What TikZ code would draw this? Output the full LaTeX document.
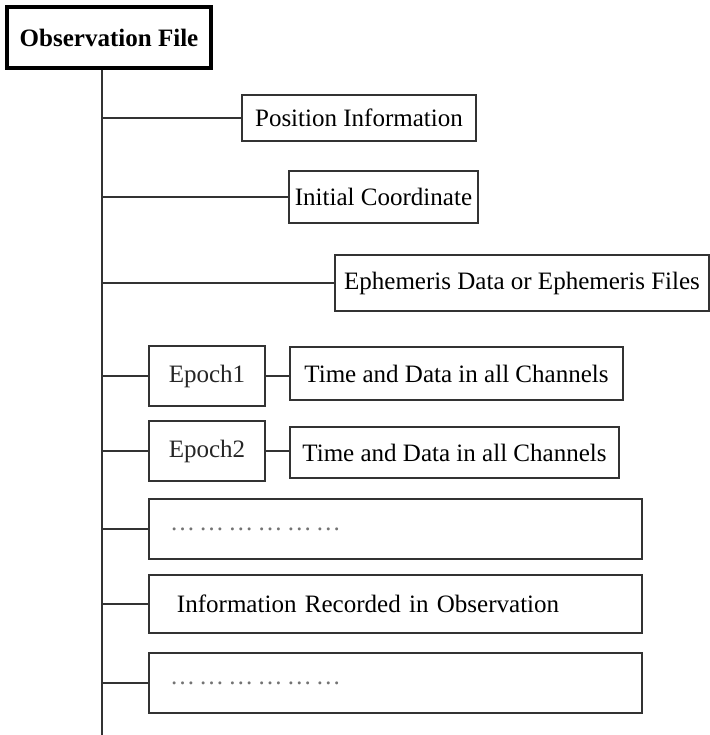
\documentclass[tikz,border=0pt]{standalone}
\usepackage{fontspec}
\setmainfont{Liberation Serif}
\begin{document}
\begin{tikzpicture}[every node/.style={font=\fontsize{17.8}{20}\selectfont},
  box/.style={draw=black!80,line width=1.1pt,inner sep=0pt},
  rootbox/.style={draw=black,line width=2.2pt,inner sep=0pt,font=\fontsize{17.8}{20}\selectfont\bfseries},
  link/.style={draw=black!80,line width=1.1pt}]
\useasboundingbox (0,0) rectangle (17.75,-18.375);
\node[rootbox,minimum width=5.1cm,minimum height=1.525cm] (obs) at (2.725,-0.9375) {Observation File};
\coordinate (trunk) at (2.55,-1.7);
\coordinate (trunkend) at (2.55,-18.375);
\draw[link] (trunk |- obs.south) -- (trunkend);
% entries of the file
\node[box,minimum width=5.85cm,minimum height=1.15cm] (pos) at (8.975,-2.95) {Position Information};
\node[box,minimum width=4.725cm,minimum height=1.3cm] (init) at (9.5875,-4.925) {Initial Coordinate};
\node[box,minimum width=9.35cm,minimum height=1.4cm] (eph) at (13.05,-7.075) {Ephemeris Data or Ephemeris Files};
\node[box,minimum width=2.9cm,minimum height=1.5cm,text=black!85] (ep1) at (5.175,-9.4) {Epoch1};
\node[box,minimum width=8.325cm,minimum height=1.325cm] (t1) at (11.4125,-9.3375) {Time and Data in all Channels};
\node[box,minimum width=2.9cm,minimum height=1.5cm,text=black!85] (ep2) at (5.175,-11.275) {Epoch2};
\node[box,minimum width=8.225cm,minimum height=1.275cm] (t2) at (11.3625,-11.3125) {Time and Data in all Channels};
\node[box,minimum width=12.325cm,minimum height=1.5cm,text width=11.275cm,inner xsep=0.525cm,align=left,text=black!55] (dots1) at (9.8875,-13.225) {…\,…\,…\,…\,…\,…};
\node[box,minimum width=12.325cm,minimum height=1.45cm,text width=10.925cm,inner xsep=0.7cm,align=left] (info) at (9.8875,-15.1) {Information Recorded in Observation};
\node[box,minimum width=12.325cm,minimum height=1.5cm,text width=11.275cm,inner xsep=0.525cm,align=left,text=black!55] (dots2) at (9.8875,-17.075) {…\,…\,…\,…\,…\,…};
% branches
\foreach \n in {pos,init,eph,ep1,ep2,dots1,info,dots2}{\draw[link] (\n.west) -- (\n.west -| trunk);}
\draw[link] (ep1.east) -- (ep1.east -| t1.west);
\draw[link] (ep2.east) -- (ep2.east -| t2.west);
\end{tikzpicture}
\end{document}
